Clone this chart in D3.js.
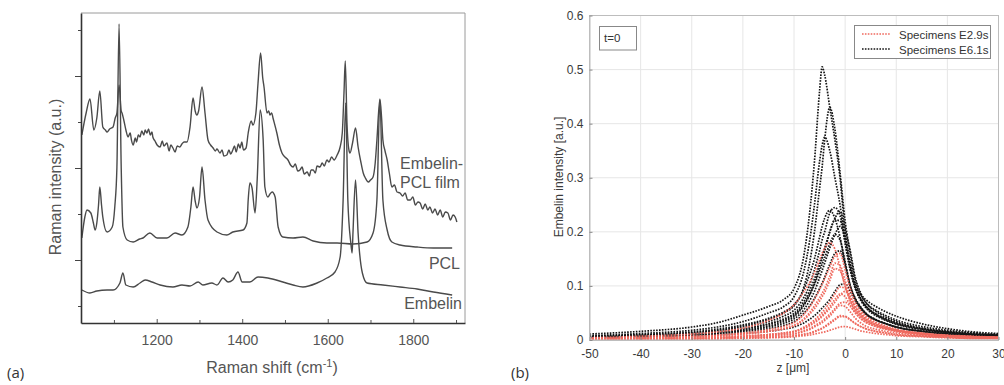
<!DOCTYPE html>
<html>
<head>
<meta charset="utf-8">
<script src="https://cdn.jsdelivr.net/npm/d3@7"></script>
<style>
  html, body { margin: 0; padding: 0; background: #fff; }
  svg { display: block; }
</style>
</head>
<body>
<svg id="fig" width="1004" height="385"></svg>
<script>
// ---------- panel (a): Raman spectra, [shift (cm-1), intensity (a.u.)]
const filmSpectrum = [
  [1025,188],[1035,210],[1044,224],[1053,193],[1060,205],[1067,232],[1074,196],[1080,193],[1084,191],[1090,194],
  [1098,196],[1103,205],[1107,210],[1112,238],[1117,212],[1119,210],[1123,203],[1128,193],[1133,186],[1138,190],
  [1141,183],[1145,178],[1150,185],[1153,181],[1157,188],[1161,186],[1165,192],[1170,188],[1173,193],[1177,190],
  [1181,194],[1185,188],[1189,191],[1191,186],[1196,182],[1201,178],[1208,176],[1213,182],[1217,177],[1224,180],
  [1229,172],[1233,178],[1238,175],[1243,171],[1248,177],[1254,176],[1259,179],[1264,181],[1271,181],[1278,196],
  [1285,225],[1290,212],[1294,208],[1298,212],[1306,236],[1313,210],[1320,183],[1326,178],[1332,175],[1337,172],
  [1341,174],[1348,170],[1353,173],[1357,167],[1364,168],[1369,173],[1373,169],[1378,173],[1382,177],[1386,171],
  [1391,179],[1395,175],[1399,181],[1403,173],[1409,175],[1414,190],[1421,202],[1425,198],[1432,210],[1437,240],
  [1443,270],[1448,245],[1451,236],[1458,210],[1462,212],[1465,208],[1469,210],[1472,205],[1481,190],[1487,178],
  [1493,170],[1500,166],[1507,163],[1513,158],[1519,156],[1524,159],[1530,152],[1535,153],[1540,156],[1545,149],
  [1552,151],[1557,147],[1561,153],[1566,153],[1571,150],[1575,157],[1582,156],[1587,160],[1592,157],[1598,163],
  [1603,161],[1609,166],[1615,163],[1622,168],[1629,176],[1634,190],[1638,230],[1641,262],[1645,200],[1650,172],
  [1652,170],[1658,180],[1665,195],[1671,176],[1677,162],[1683,150],[1688,145],[1695,141],[1700,143],[1706,146],
  [1711,160],[1715,183],[1722,224],[1726,205],[1729,183],[1734,172],[1739,163],[1744,150],[1750,136],[1756,138],
  [1762,131],[1769,130],[1775,127],[1781,130],[1787,123],[1793,123],[1799,126],[1805,118],[1811,121],[1816,120],
  [1822,114],[1828,119],[1834,113],[1839,116],[1845,110],[1851,114],[1857,108],[1863,113],[1869,106],[1875,111],
  [1881,110],[1887,103],[1893,108],[1898,106],[1902,101]
];
const pclSpectrum = [
  [1025,85],[1032,106],[1037,113],[1046,110],[1052,100],[1056,93],[1060,100],[1064,118],[1067,136],[1071,118],
  [1074,106],[1084,91],[1096,96],[1102,116],[1107,156],[1112,299],[1117,156],[1121,96],[1131,83],[1145,81],
  [1160,84],[1168,85],[1184,90],[1201,85],[1224,85],[1243,90],[1259,88],[1273,96],[1280,116],[1285,136],
  [1290,122],[1294,115],[1300,125],[1306,156],[1313,123],[1320,103],[1341,91],[1364,88],[1378,91],[1402,93],
  [1411,100],[1414,123],[1418,140],[1423,135],[1430,110],[1435,143],[1442,213],[1449,183],[1453,136],[1460,126],
  [1465,129],[1470,131],[1477,126],[1484,96],[1495,86],[1519,85],[1542,86],[1566,82],[1598,80],[1622,80],
  [1659,79],[1692,81],[1706,90],[1715,123],[1722,223],[1729,123],[1739,93],[1750,81],[1769,78],[1809,76],
  [1847,75],[1891,75]
];
const embelinSpectrum = [
  [1025,33],[1044,30],[1060,32],[1084,33],[1098,33],[1114,40],[1121,50],[1128,38],[1145,36],[1161,40],
  [1173,43],[1189,41],[1208,38],[1238,36],[1259,38],[1278,37],[1297,41],[1308,38],[1329,40],[1341,38],
  [1355,45],[1367,41],[1378,43],[1390,51],[1400,41],[1418,41],[1437,46],[1460,45],[1495,41],[1519,38],
  [1542,36],[1575,40],[1598,45],[1617,51],[1629,66],[1636,123],[1642,220],[1647,123],[1654,80],[1657,70],
  [1659,90],[1665,143],[1671,90],[1681,50],[1692,40],[1729,38],[1769,36],[1809,34],[1847,31],[1891,28]
];
const shiftMajorTicks = [1200, 1400, 1600, 1800];
const shiftMinorTicks = [1100, 1300, 1500, 1700, 1900];
const intensityMajorTicks = [63, 155, 247];
const intensityMinorTicks = [17, 109, 201, 293];

// ---------- panel (b): embelin depth profiles at t=0
const zGrid = [-50,-40,-30,-25,-20,-15,-12,-10,-8,-7,-6,-5,-4.5,-4,-3,-2,-1,0,1,2,3,4,6,8,10,15,20,25,30];
const profilesE29 = [
  [0.004,0.007,0.011,0.015,0.022,0.036,0.05,0.065,0.09,0.105,0.125,0.148,0.16,0.17,0.18,0.168,0.135,0.1,0.072,0.055,0.045,0.037,0.028,0.022,0.018,0.012,0.008,0.006,0.005],
  [0.003,0.005,0.007,0.009,0.013,0.019,0.025,0.032,0.048,0.06,0.075,0.093,0.103,0.113,0.135,0.155,0.16,0.13,0.095,0.07,0.055,0.045,0.033,0.026,0.02,0.013,0.009,0.007,0.005],
  [0.003,0.004,0.006,0.008,0.011,0.016,0.021,0.027,0.04,0.05,0.063,0.078,0.086,0.095,0.118,0.142,0.138,0.11,0.08,0.06,0.048,0.039,0.029,0.023,0.018,0.012,0.008,0.006,0.005],
  [0.003,0.004,0.006,0.008,0.011,0.016,0.021,0.026,0.038,0.047,0.058,0.072,0.08,0.088,0.11,0.132,0.128,0.1,0.073,0.055,0.044,0.036,0.027,0.021,0.017,0.011,0.008,0.006,0.005],
  [0.002,0.003,0.004,0.005,0.007,0.01,0.013,0.016,0.024,0.03,0.037,0.046,0.051,0.057,0.07,0.085,0.098,0.095,0.078,0.06,0.048,0.039,0.029,0.023,0.018,0.012,0.008,0.006,0.005],
  [0.002,0.003,0.004,0.005,0.007,0.01,0.012,0.015,0.021,0.026,0.032,0.039,0.043,0.048,0.058,0.07,0.083,0.09,0.08,0.063,0.05,0.041,0.031,0.024,0.019,0.012,0.008,0.006,0.005],
  [0.002,0.003,0.004,0.005,0.007,0.01,0.013,0.016,0.023,0.028,0.034,0.041,0.046,0.051,0.062,0.075,0.085,0.08,0.065,0.05,0.04,0.033,0.025,0.02,0.016,0.01,0.007,0.005,0.004],
  [0.002,0.002,0.003,0.004,0.005,0.008,0.01,0.012,0.017,0.021,0.026,0.032,0.035,0.039,0.048,0.058,0.068,0.07,0.062,0.05,0.04,0.033,0.025,0.02,0.016,0.01,0.007,0.005,0.004],
  [0.002,0.002,0.003,0.004,0.005,0.007,0.009,0.011,0.016,0.019,0.024,0.029,0.032,0.036,0.044,0.055,0.064,0.062,0.052,0.04,0.032,0.026,0.02,0.016,0.013,0.008,0.006,0.004,0.003],
  [0.001,0.002,0.002,0.003,0.004,0.005,0.006,0.008,0.011,0.013,0.016,0.02,0.022,0.025,0.032,0.039,0.045,0.044,0.038,0.031,0.025,0.021,0.016,0.013,0.01,0.007,0.005,0.003,0.003],
  [0.001,0.002,0.002,0.003,0.004,0.005,0.006,0.008,0.01,0.012,0.015,0.019,0.021,0.024,0.03,0.037,0.043,0.043,0.037,0.03,0.025,0.021,0.016,0.013,0.01,0.007,0.005,0.003,0.003],
  [0.001,0.001,0.002,0.002,0.003,0.004,0.005,0.006,0.008,0.009,0.011,0.013,0.014,0.015,0.018,0.021,0.024,0.025,0.023,0.02,0.017,0.015,0.012,0.01,0.008,0.006,0.004,0.003,0.003]
];
const profilesE61 = [
  [0.011,0.016,0.024,0.032,0.046,0.062,0.075,0.095,0.16,0.23,0.33,0.46,0.505,0.49,0.43,0.37,0.3,0.2,0.14,0.1,0.085,0.075,0.062,0.052,0.044,0.03,0.021,0.015,0.012],
  [0.007,0.01,0.015,0.02,0.028,0.04,0.052,0.065,0.1,0.14,0.2,0.28,0.32,0.37,0.43,0.39,0.31,0.22,0.16,0.11,0.085,0.07,0.055,0.045,0.037,0.025,0.018,0.013,0.01],
  [0.008,0.012,0.018,0.024,0.034,0.05,0.062,0.08,0.13,0.18,0.25,0.33,0.36,0.375,0.35,0.3,0.25,0.18,0.13,0.095,0.076,0.063,0.048,0.039,0.032,0.021,0.015,0.011,0.009],
  [0.006,0.009,0.013,0.017,0.024,0.034,0.044,0.055,0.08,0.1,0.13,0.165,0.185,0.2,0.235,0.245,0.23,0.19,0.14,0.1,0.078,0.063,0.048,0.038,0.031,0.021,0.015,0.011,0.009],
  [0.006,0.009,0.013,0.018,0.026,0.038,0.05,0.063,0.095,0.12,0.15,0.19,0.21,0.225,0.24,0.225,0.19,0.14,0.1,0.077,0.062,0.05,0.038,0.03,0.024,0.016,0.012,0.009,0.008],
  [0.005,0.007,0.01,0.013,0.018,0.026,0.034,0.043,0.065,0.082,0.105,0.135,0.15,0.165,0.2,0.225,0.238,0.205,0.165,0.115,0.088,0.07,0.053,0.042,0.034,0.022,0.016,0.012,0.01],
  [0.005,0.008,0.011,0.015,0.021,0.03,0.039,0.049,0.072,0.09,0.113,0.14,0.155,0.17,0.2,0.222,0.22,0.18,0.13,0.095,0.074,0.06,0.045,0.036,0.029,0.019,0.014,0.01,0.008],
  [0.004,0.006,0.009,0.012,0.017,0.024,0.031,0.039,0.057,0.072,0.09,0.115,0.128,0.142,0.17,0.195,0.21,0.19,0.14,0.1,0.078,0.063,0.047,0.037,0.03,0.02,0.014,0.01,0.008],
  [0.005,0.007,0.01,0.014,0.02,0.029,0.037,0.046,0.067,0.083,0.103,0.127,0.14,0.152,0.178,0.195,0.185,0.145,0.1,0.075,0.06,0.049,0.037,0.03,0.024,0.016,0.012,0.009,0.007],
  [0.004,0.006,0.008,0.011,0.015,0.021,0.027,0.034,0.05,0.062,0.077,0.095,0.105,0.116,0.14,0.16,0.165,0.14,0.1,0.075,0.06,0.049,0.037,0.03,0.024,0.016,0.011,0.008,0.007],
  [0.004,0.005,0.007,0.009,0.012,0.016,0.02,0.024,0.032,0.038,0.045,0.054,0.059,0.064,0.075,0.09,0.102,0.104,0.09,0.072,0.058,0.048,0.037,0.03,0.024,0.016,0.011,0.008,0.007]
];
const zTicks = [-50, -40, -30, -20, -10, 0, 10, 20, 30];
const embelinTicks = [0, 0.1, 0.2, 0.3, 0.4, 0.5, 0.6];
const legendNames = ["Specimens E2.9s", "Specimens E6.1s"];

const svg = d3.select("#fig");
const ink = "#4a4a4a";
const fontA = "'Liberation Sans', Arial, sans-serif";

// ================= panel (a) =================
const xa = d3.scaleLinear().domain([1023, 1921]).range([81, 465]);
const ya = d3.scaleLinear().domain([0, 310]).range([323, 13]);
const ga = svg.append("g");

const spectrumLine = d3.line()
  .x(d => xa(d[0]))
  .y(d => ya(d[1]))
  .curve(d3.curveMonotoneX);

[filmSpectrum, pclSpectrum, embelinSpectrum].forEach(s => {
  ga.append("path")
    .attr("d", spectrumLine(s))
    .attr("fill", "none")
    .attr("stroke", ink)
    .attr("stroke-width", 1.4)
    .attr("stroke-linejoin", "round");
});

// frame: dark left/bottom, light top/right
ga.append("line").attr("x1", 465).attr("x2", 465).attr("y1", 13).attr("y2", 323)
  .attr("stroke", "#9a9a9a").attr("stroke-width", 1);
ga.append("line").attr("x1", 81).attr("x2", 465).attr("y1", 13).attr("y2", 13)
  .attr("stroke", "#9a9a9a").attr("stroke-width", 1);

const axBottom = ga.append("g").attr("transform", "translate(0,323)")
  .call(d3.axisBottom(xa).tickValues(shiftMajorTicks).tickSize(-4).tickPadding(12)
    .tickSizeOuter(0).tickFormat(d3.format("d")));
axBottom.append("g")
  .call(d3.axisBottom(xa).tickValues(shiftMinorTicks).tickSize(-3).tickFormat("").tickSizeOuter(0))
  .select(".domain").remove();
axBottom.selectAll(".domain").attr("stroke", "#333").attr("stroke-width", 1.6);
axBottom.selectAll(".tick line").attr("stroke", "#555");
axBottom.selectAll(".tick text")
  .attr("font-family", fontA).attr("font-size", 14).attr("fill", "#555");

const axLeft = ga.append("g").attr("transform", "translate(81,0)")
  .call(d3.axisLeft(ya).tickValues(intensityMajorTicks).tickSize(6).tickFormat("").tickSizeOuter(0));
axLeft.append("g")
  .call(d3.axisLeft(ya).tickValues(intensityMinorTicks).tickSize(3).tickFormat("").tickSizeOuter(0))
  .select(".domain").remove();
axLeft.selectAll(".domain").attr("stroke", "#333").attr("stroke-width", 1.6);
axLeft.selectAll(".tick line").attr("stroke", "#444");

const xLab = ga.append("text")
  .attr("x", 272).attr("y", 373)
  .attr("text-anchor", "middle")
  .attr("font-family", fontA).attr("font-size", 16).attr("fill", "#555");
xLab.append("tspan").text("Raman shift (cm");
xLab.append("tspan").attr("dy", -6).attr("font-size", 11).text("-1");
xLab.append("tspan").attr("dy", 6).text(")");

ga.append("text")
  .attr("transform", "translate(61,177) rotate(-90)")
  .attr("text-anchor", "middle")
  .attr("font-family", fontA).attr("font-size", 16).attr("fill", "#555")
  .text("Raman intensity (a.u.)");

const seriesLabels = [
  { t: "Embelin-", x: 400, y: 169, a: "start" },
  { t: "PCL film", x: 400, y: 188, a: "start" },
  { t: "PCL", x: 460, y: 269, a: "end" },
  { t: "Embelin", x: 462, y: 309, a: "end" }
];
ga.selectAll("text.lbl").data(seriesLabels).enter().append("text")
  .attr("class", "lbl")
  .attr("x", d => d.x).attr("y", d => d.y)
  .attr("text-anchor", d => d.a)
  .attr("font-family", fontA).attr("font-size", 16).attr("fill", "#555")
  .text(d => d.t);

svg.append("text").attr("x", 7).attr("y", 378)
  .attr("font-family", "'Open Sans', sans-serif").attr("font-size", 15).attr("fill", "#333")
  .text("(a)");

// ================= panel (b) =================
const xb = d3.scaleLinear().domain([-50, 30]).range([589.5, 998.5]);
const yb = d3.scaleLinear().domain([0, 0.6]).range([340, 15.5]);
const gb = svg.append("g");
const fontB = "'Liberation Sans', Arial, sans-serif";

// grid
gb.append("g").selectAll("line").data(zTicks).enter().append("line")
  .attr("x1", d => xb(d)).attr("x2", d => xb(d)).attr("y1", yb(0)).attr("y2", yb(0.6))
  .attr("stroke", "#e6e6e6");
gb.append("g").selectAll("line").data(embelinTicks).enter().append("line")
  .attr("x1", xb(-50)).attr("x2", xb(30)).attr("y1", d => yb(d)).attr("y2", d => yb(d))
  .attr("stroke", "#e6e6e6");

const profileLine = d3.line()
  .x((d, i) => xb(zGrid[i]))
  .y(d => yb(d))
  .curve(d3.curveMonotoneX);

const clip = gb.append("clipPath").attr("id", "clipb");
clip.append("rect").attr("x", xb(-50)).attr("y", yb(0.6)).attr("width", xb(30) - xb(-50)).attr("height", yb(0) - yb(0.6));
const plotB = gb.append("g").attr("clip-path", "url(#clipb)");

const redCol = "#ef6a5f", blackCol = "#151515";
profilesE61.forEach(p => {
  plotB.append("path").attr("d", profileLine(p))
    .attr("fill", "none").attr("stroke", blackCol).attr("stroke-width", 1.7)
    .attr("stroke-dasharray", "1.6,1.3");
});
profilesE29.forEach(p => {
  plotB.append("path").attr("d", profileLine(p))
    .attr("fill", "none").attr("stroke", redCol).attr("stroke-width", 1.7)
    .attr("stroke-dasharray", "1.6,1.3");
});

// box + axes
gb.append("rect")
  .attr("x", xb(-50)).attr("y", yb(0.6))
  .attr("width", xb(30) - xb(-50)).attr("height", yb(0) - yb(0.6))
  .attr("fill", "none").attr("stroke", "#bdbdbd");

const axB = gb.append("g").attr("transform", `translate(0,${yb(0)})`)
  .call(d3.axisBottom(xb).tickValues(zTicks).tickSize(-3).tickPadding(9).tickSizeOuter(0)
    .tickFormat(d => String(d)));
const axL = gb.append("g").attr("transform", `translate(${xb(-50)},0)`)
  .call(d3.axisLeft(yb).tickValues(embelinTicks).tickSize(-3).tickPadding(6).tickSizeOuter(0)
    .tickFormat(d => d === 0 ? "0" : d3.format(".1f")(d)));
[axB, axL].forEach(ax => {
  ax.select(".domain").attr("stroke", "#bdbdbd");
  ax.selectAll(".tick line").attr("stroke", "#8a8a8a");
  ax.selectAll(".tick text").attr("font-family", fontB).attr("font-size", 12).attr("fill", "#3a3a3a");
});

gb.append("text").attr("x", 793).attr("y", 372)
  .attr("text-anchor", "middle")
  .attr("font-family", fontB).attr("font-size", 12).attr("fill", "#3a3a3a")
  .text("z [\u03bcm]");
gb.append("text")
  .attr("transform", "translate(563,177) rotate(-90)")
  .attr("text-anchor", "middle")
  .attr("font-family", fontB).attr("font-size", 12).attr("fill", "#3a3a3a")
  .text("Embelin intensity [a.u.]");

// t=0 annotation box
gb.append("rect").attr("x", 599.5).attr("y", 26.5).attr("width", 37).attr("height", 23.5)
  .attr("fill", "#fff").attr("stroke", "#888");
gb.append("text").attr("x", 604).attr("y", 42)
  .attr("font-family", fontB).attr("font-size", 11.5).attr("fill", "#333")
  .text("t=0");

// legend
const leg = gb.append("g");
leg.append("rect").attr("x", 854.5).attr("y", 25.5).attr("width", 136).attr("height", 33)
  .attr("fill", "#fff").attr("stroke", "#888");
[redCol, blackCol].forEach((c, i) => {
  leg.append("line").attr("x1", 862).attr("x2", 891).attr("y1", 34 + i * 15).attr("y2", 34 + i * 15)
    .attr("stroke", c).attr("stroke-width", 1.7).attr("stroke-dasharray", "1.6,1.3");
  leg.append("text").attr("x", 899).attr("y", 38.5 + i * 15)
    .attr("font-family", fontB).attr("font-size", 11.5).attr("fill", "#333")
    .text(legendNames[i]);
});

svg.append("text").attr("x", 511).attr("y", 378)
  .attr("font-family", "'Open Sans', sans-serif").attr("font-size", 15).attr("fill", "#333")
  .text("(b)");
</script>
</body>
</html>
